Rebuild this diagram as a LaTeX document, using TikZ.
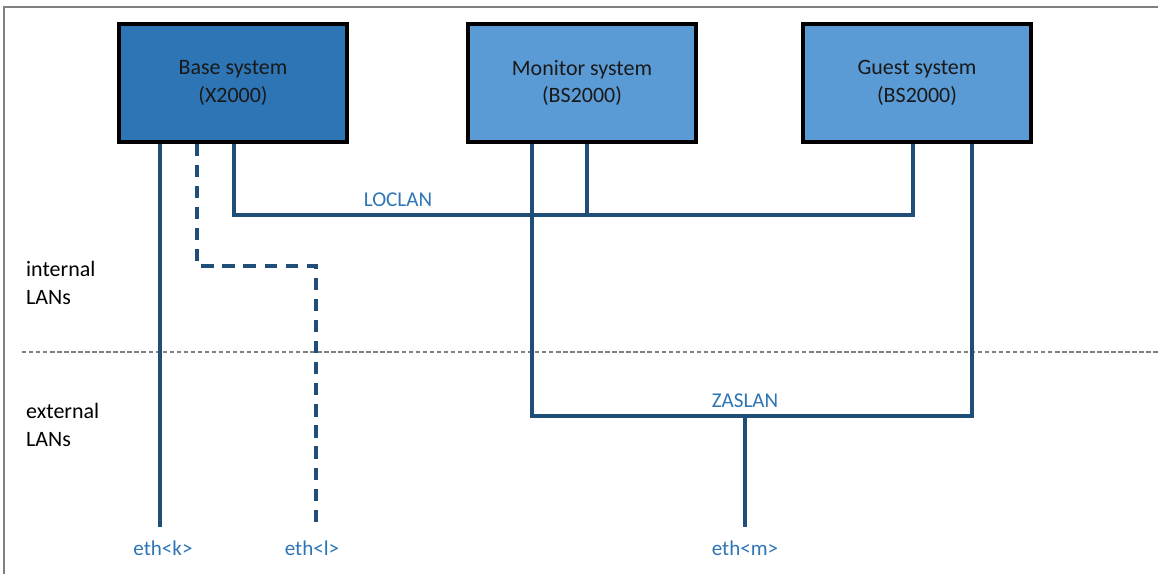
\documentclass[tikz,border=0pt]{standalone}
\usepackage{fontspec}
\setmainfont{Carlito}
\usetikzlibrary{positioning}
\definecolor{boxdark}{HTML}{2E75B6}
\definecolor{boxlight}{HTML}{5B9BD5}
\definecolor{wire}{HTML}{1F4E79}
\definecolor{lanlabel}{HTML}{2E75B6}

\begin{document}
\begin{tikzpicture}[x=0.02cm,y=-0.02cm,
    sysbox/.style={draw=black,line width=2pt,minimum width=4.56cm,minimum height=2.36cm,
      align=center,font=\fontsize{12.5}{15.5}\selectfont,text=black!90},
    lan/.style={draw=wire,line width=1.9pt},
    lanname/.style={text=lanlabel,font=\fontsize{12}{15}\selectfont},
    zone/.style={align=left,anchor=west,font=\fontsize{12.5}{15.5}\selectfont}]
    \useasboundingbox (0,0) rectangle (1158,574);
    \draw[gray,line width=1pt](1158,7)--(4,7)--(4,574);
    % systems
    \node[sysbox,fill=boxdark](base) at (233,83){Base system\\(X2000)};
    \node[sysbox,fill=boxlight](monitor) at (582,83){Monitor system\\(BS2000)};
    \node[sysbox,fill=boxlight](guest) at (917,83){Guest system\\(BS2000)};
    % zones
    \draw[gray,line width=0.6pt,dash pattern=on 2.5pt off 1.5pt](22,352)--(1158,352);
    \node[zone](internal) at (20,283){internal\\LANs};
    \node[zone](external) at (20,425){external\\LANs};
    % end points
    \coordinate(k) at (160,527);
    \coordinate(lbend) at (197,266);
    \coordinate(l) at (316,527);
    \coordinate(locw) at (234,215);
    \coordinate(locm) at (587,215);
    \coordinate(loce) at (913,215);
    \coordinate(zasw) at (532,416);
    \coordinate(zasm) at (745,416);
    \coordinate(zase) at (972,416);
    \coordinate(m) at (745,527);
    % LANs
    \draw[lan](base.south -| k)--(k);
    \draw[lan,line width=2.3pt,dash pattern=on 7pt off 5pt](base.south -| lbend)--(lbend)-|(l);
    \draw[lan](base.south -| locw)--(locw)--(loce)--(guest.south -| loce);
    \draw[lan](monitor.south -| locm)--(locm);
    \draw[lan](monitor.south -| zasw)--(zasw)--(zase)--(guest.south -| zase);
    \draw[lan](zasm)--(m);
    % labels
    \node[lanname](loclan) at (398,200){LOCLAN};
    \node[lanname](zaslan) at (745,401){ZASLAN};
    \node[lanname](ethk) at (163,548){eth<k>};
    \node[lanname](ethl) at (312,548){eth<l>};
    \node[lanname](ethm) at (745,548){eth<m>};
\end{tikzpicture}
\end{document}
